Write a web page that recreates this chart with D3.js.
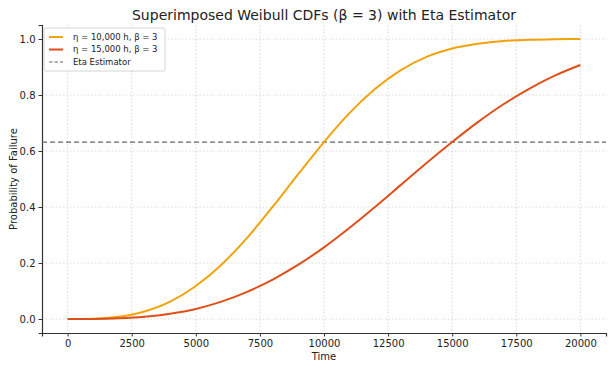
<!DOCTYPE html>
<html>
<head>
<meta charset="utf-8">
<script src="https://cdn.jsdelivr.net/npm/d3@7"></script>
<style>
body { margin: 0; background: #fff; }
text { font-family: "DejaVu Sans", sans-serif; fill: #222; }
.grid line { stroke: #d0d0d0; stroke-dasharray: 1.5,2; stroke-width: 0.8; }
.axis path, .axis line { stroke: #333; }
</style>
</head>
<body>
<div id="root"></div>
<script>
// hours sampled along the x axis
var times = [0, 1000, 2000, 3000, 4000, 5000, 6000, 7000, 8000, 9000, 10000,
    11000, 12000, 13000, 14000, 15000, 16000, 17000, 18000, 19000, 20000];
// probability of failure
var cdfEta10k = [0, 0.001, 0.008, 0.027, 0.062, 0.118, 0.194, 0.290, 0.401, 0.518, 0.632,
    0.736, 0.822, 0.889, 0.936, 0.966, 0.983, 0.993, 0.997, 0.999, 1.0];
var cdfEta15k = [0, 0.0003, 0.0024, 0.008, 0.019, 0.036, 0.062, 0.097, 0.141, 0.194, 0.256,
    0.326, 0.401, 0.479, 0.557, 0.632, 0.703, 0.767, 0.822, 0.869, 0.907];
var etaLevel = 0.632;
var seriesNames = ["η = 10,000 h, β = 3", "η = 15,000 h, β = 3", "Eta Estimator"];
var xTicks = [0, 2500, 5000, 7500, 10000, 12500, 15000, 17500, 20000];
var yTicks = [0, 0.2, 0.4, 0.6, 0.8, 1.0];

var margin = {top: 25, right: 9, bottom: 36, left: 42},
    width = 615 - margin.left - margin.right,
    height = 369 - margin.top - margin.bottom;

var x = d3.scaleLinear().domain([-1000, 21000]).range([0, width]);
var y = d3.scaleLinear().domain([-0.05, 1.05]).range([height, 0]);

var svg = d3.select("#root").append("svg")
    .attr("width", 615)
    .attr("height", 369)
    .append("g")
    .attr("transform", "translate(" + margin.left + "," + margin.top + ")");

// grid
svg.append("g").attr("class", "grid")
    .selectAll("line.v").data(xTicks).enter().append("line")
    .attr("x1", function (d) { return x(d); })
    .attr("x2", function (d) { return x(d); })
    .attr("y1", 0).attr("y2", height);
svg.append("g").attr("class", "grid")
    .selectAll("line.h").data(yTicks).enter().append("line")
    .attr("x1", 0).attr("x2", width)
    .attr("y1", function (d) { return y(d); })
    .attr("y2", function (d) { return y(d); });

var xAxis = d3.axisBottom(x).tickValues(xTicks).tickFormat(d3.format("d")).tickSizeOuter(0).tickSize(3.5);
var yAxis = d3.axisLeft(y).tickValues(yTicks).tickFormat(d3.format(".1f")).tickSizeOuter(0).tickSize(3.5);

var gx = svg.append("g").attr("class", "axis")
    .attr("transform", "translate(0," + height + ")")
    .call(xAxis);
gx.selectAll("text").style("font-size", "10px").attr("dy", "0.72em");

var gy = svg.append("g").attr("class", "axis").call(yAxis);
gy.selectAll("text").style("font-size", "10px");
gx.select(".domain").attr("stroke-width", 1.2);
gy.select(".domain").attr("stroke-width", 1.2);

// eta estimator
svg.append("line")
    .attr("x1", 0).attr("x2", width)
    .attr("y1", y(etaLevel)).attr("y2", y(etaLevel))
    .attr("stroke", "#666")
    .attr("stroke-width", 1.2)
    .attr("stroke-dasharray", "5,3");

var line = d3.line()
    .x(function (d, i) { return x(times[i]); })
    .y(function (d) { return y(d); })
    .curve(d3.curveMonotoneX);

var colors = ["#f2a30c", "#df4f19"];

svg.append("path").datum(cdfEta10k)
    .attr("fill", "none").attr("stroke", colors[0]).attr("stroke-width", 2)
    .attr("d", line);
svg.append("path").datum(cdfEta15k)
    .attr("fill", "none").attr("stroke", colors[1]).attr("stroke-width", 2)
    .attr("d", line);

// title and labels
svg.append("text")
    .attr("x", width / 2).attr("y", -5)
    .attr("text-anchor", "middle")
    .style("font-size", "14px")
    .text("Superimposed Weibull CDFs (β = 3) with Eta Estimator");
svg.append("text")
    .attr("x", width / 2).attr("y", height + 27)
    .attr("text-anchor", "middle")
    .style("font-size", "10px")
    .text("Time");
svg.append("text")
    .attr("transform", "rotate(-90)")
    .attr("x", -height / 2).attr("y", -25)
    .attr("text-anchor", "middle")
    .style("font-size", "10px")
    .text("Probability of Failure");

// legend
var legend = svg.append("g").attr("transform", "translate(2,3)");
legend.append("rect")
    .attr("width", 121).attr("height", 43).attr("rx", 2)
    .attr("fill", "#fff").attr("fill-opacity", 0.85)
    .attr("stroke", "#ccc").attr("stroke-width", 0.8);
var rows = legend.selectAll("g.row").data(seriesNames).enter().append("g")
    .attr("transform", function (d, i) { return "translate(5," + (9 + i * 12.5) + ")"; });
rows.append("line")
    .attr("x1", 0).attr("x2", 14)
    .attr("stroke", function (d, i) { return i < 2 ? colors[i] : "#666"; })
    .attr("stroke-width", function (d, i) { return i < 2 ? 2 : 1.2; })
    .attr("stroke-dasharray", function (d, i) { return i < 2 ? null : "3.5,2"; });
rows.append("text")
    .attr("x", 24).attr("dy", "0.35em")
    .style("font-size", "8.5px")
    .text(function (d) { return d; });
</script>
</body>
</html>
